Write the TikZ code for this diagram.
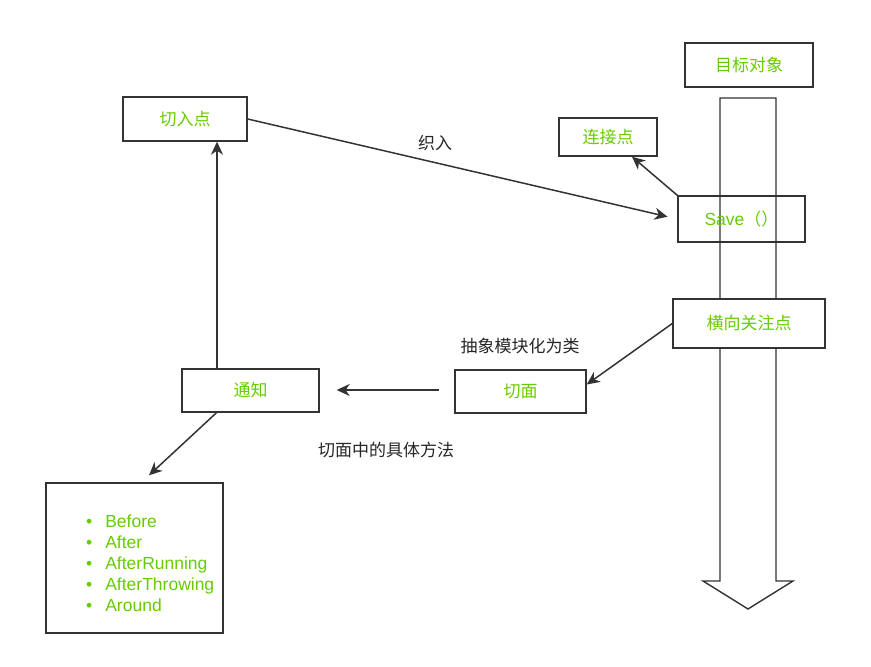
\documentclass[tikz,border=0pt]{standalone}
\usepackage{fontspec}
\setmainfont{Liberation Sans}
\newfontfamily\cjk{Noto Sans CJK SC}
\usetikzlibrary{arrows.meta}
\definecolor{txtgreen}{HTML}{66CC00}
\definecolor{edge}{HTML}{333333}

\begin{document}
\begin{tikzpicture}[x=1pt,y=-1pt,
  box/.style={draw=edge, line width=1.4pt, inner sep=0pt,
    font=\cjk\fontsize{17}{20}\selectfont, text=txtgreen},
  lbl/.style={inner sep=0pt, font=\cjk\fontsize{17}{20}\selectfont, text=black!85},
  arr/.style={draw=edge, line width=1.5pt,
    -{Stealth[length=13pt,width=12pt,inset=4pt]}}]

% canvas
\useasboundingbox (0,0) rectangle (871,667);

% hollow downward arrow behind the target object
\draw[draw=edge, line width=1.4pt, fill=white, line join=miter]
  (720,98) -- (776,98) -- (776,581) -- (793,581) -- (748,609)
  -- (703,581) -- (720,581) -- cycle;

% boxes
\node[box, minimum width=128pt, minimum height=44pt] (mb)  at (749,65)    {目标对象};
\node[box, minimum width=98pt,  minimum height=38pt] (ljd) at (608,137)   {连接点};
\node[box, minimum width=127pt, minimum height=46pt] (save) at (741.5,219)
  {{\fontspec{Liberation Sans}\fontsize{17.5}{20}\selectfont Save}（）};
\node[box, minimum width=124pt, minimum height=44pt] (qrd) at (185,119)   {切入点};
\node[box, fill=white, minimum width=152pt, minimum height=49pt] (hgz) at (749,323.5) {横向关注点};
\node[box, minimum width=131pt, minimum height=43pt] (qm)  at (520.5,391.5) {切面};
\node[box, minimum width=137pt, minimum height=43pt] (tz)  at (250.5,390.5) {通知};
\node[draw=edge, line width=1.4pt, minimum width=177pt, minimum height=150pt] (lst) at (134.5,558) {};

% advice types
\node[anchor=west, inner sep=0pt, text=txtgreen,
  font=\fontsize{17.5}{21}\selectfont] (items) at (86,565)
  {\begin{tabular}{@{}l@{\hspace{13pt}}l@{}}
   \textbullet & Before\\
   \textbullet & After\\
   \textbullet & AfterRunning\\
   \textbullet & AfterThrowing\\
   \textbullet & Around
   \end{tabular}};

% labels
\node[lbl] (l1) at (435,143) {织入};
\node[lbl] (l2) at (520,346) {抽象模块化为类};
\node[lbl] (l3) at (386,450) {切面中的具体方法};

% connectors
\draw[arr, shorten >=10pt] (qrd.east) -- (save.west);
\draw[arr] (save.north west) -- ([xshift=24pt]ljd.south);
\draw[arr] (hgz.west) -- ([yshift=7pt]qm.east);
\draw[arr, shorten <=15pt, shorten >=17pt] ([yshift=1.5pt]qm.west) -- ([yshift=1.5pt]qm.west -| tz.east);
\draw[arr] ([xshift=-33.5pt]tz.north) -- ([xshift=-33.5pt]tz.north |- qrd.south);
\draw[arr] ([xshift=-34pt]tz.south) -- ([xshift=14.5pt,yshift=7pt]lst.north);
\end{tikzpicture}
\end{document}
